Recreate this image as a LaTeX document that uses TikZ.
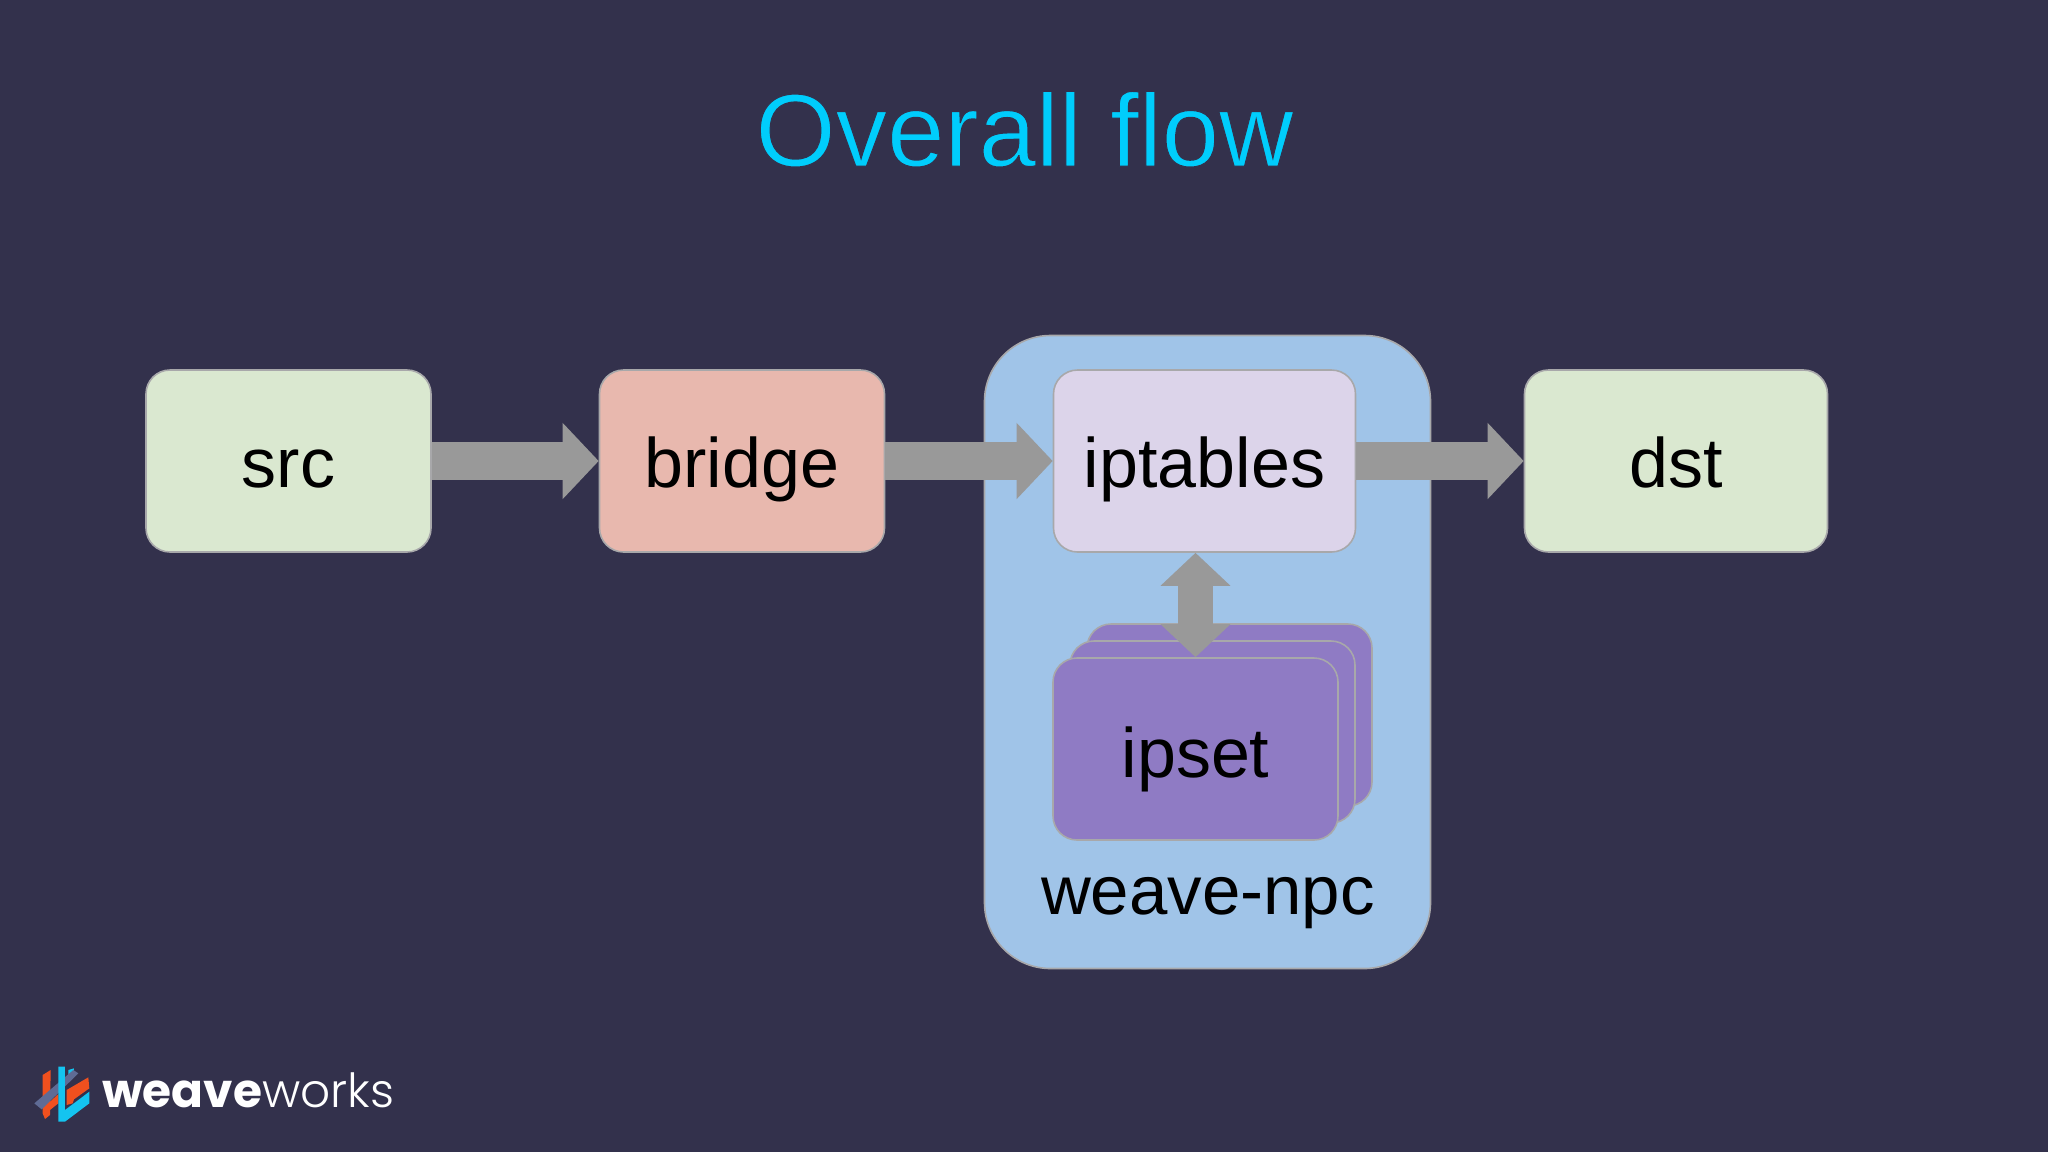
\documentclass[tikz,border=0pt]{standalone}
\usepackage{fontspec}
\usetikzlibrary{arrows.meta}
\setmainfont{Liberation Sans}
\newfontfamily\brandbold{Poppins}[UprightFont=*,BoldFont=* Bold]
\newfontfamily\brandlight{Poppins Light}
\definecolor{bg}{HTML}{33314C}
\definecolor{edge}{HTML}{A8A8AA}
\definecolor{arrowc}{HTML}{999999}
\definecolor{titlec}{HTML}{00CDFC}
\definecolor{greenbox}{HTML}{DAE8D0}
\definecolor{redbox}{HTML}{E8B8AE}
\definecolor{bluebox}{HTML}{A0C4E8}
\definecolor{lilacbox}{HTML}{DCD4EA}
\definecolor{purplebox}{HTML}{8F7BC4}
\definecolor{logoorange}{HTML}{F0501E}
\definecolor{logocyan}{HTML}{14C4F0}
\definecolor{logogrey}{HTML}{5F6B95}
\newcommand{\thinglyph}[1]{\special{pdf:code 2 Tr 1.0 w 0.2 0.192 0.298 RG}#1\special{pdf:code 0 Tr 0 w}}
\tikzset{
  x=1pt,y=-1pt,
  box/.style={draw=edge,line width=1.6pt,rounded corners=24pt,fill=#1,inner sep=0pt,
    font=\fontsize{70}{72}\selectfont,text=black,text height=60pt,text depth=8pt},
  flow/.style={draw=arrowc,line width=38pt,-{Triangle[length=36pt,width=74pt,fill=arrowc]}},
  link/.style={draw=arrowc,line width=35pt,{Triangle[length=33pt,width=68pt,fill=arrowc]}-{Triangle[length=33pt,width=68pt,fill=arrowc]}},
}
\begin{document}
\begin{tikzpicture}
\useasboundingbox (0,0) rectangle (2048,1152);
\fill[bg] (0,0) rectangle (2048,1152);
\node[font=\fontsize{103}{110}\selectfont,text=titlec,inner sep=0pt,anchor=base] (title) at (1024.5,166) {\thinglyph{Overall flow}};
% container
\node[box=bluebox,rounded corners=66pt,minimum width=446pt,minimum height=633pt] (npc) at (1207.5,652) {};
\node[inner sep=0pt,anchor=base,font=\fontsize{69}{72}\selectfont,text=black] (npclabel) at (1208,914) {weave-npc};
% boxes
\node[box=greenbox,minimum width=285pt,minimum height=182pt] (src) at (288.5,461) {src};
\node[box=redbox,minimum width=285pt,minimum height=182pt] (bridge) at (742,461) {bridge};
\node[box=lilacbox,minimum width=302pt,minimum height=182pt] (iptables) at (1204.5,461) {iptables};
\node[box=greenbox,minimum width=303pt,minimum height=182pt] (dst) at (1676,461) {dst};
% ipset stack
\node[box=purplebox,minimum width=285pt,minimum height=182pt] (ipsetc) at (1229.5,715) {};
\node[box=purplebox,minimum width=285pt,minimum height=182pt] (ipsetb) at (1212.5,732) {};
\node[box=purplebox,minimum width=285pt,minimum height=182pt,text height=62pt,text depth=5pt] (ipset) at (1195.5,749) {ipset};
% connectors
\draw[flow] (src.east) -- (bridge.west);
\draw[flow] (bridge.east) -- (iptables.west);
\draw[flow] (iptables.east) -- (dst.west);
\coordinate (linktop) at (ipset.north |- iptables.south);
\draw[link] (linktop) -- (ipset.north);
% logo
\begin{scope}[shift={(0,1020)},x=0.3333pt,y=-0.3333pt]
\fill[logoorange] (128,165) -- (152,150) -- (150,285) -- (135,297) -- (128,280) -- cycle;
\fill[logoorange] (150,245) -- (175,222) -- (175,250) -- (150,270) -- cycle;
\fill[logoorange] (200,210) -- (265,172) -- (268,205) -- (222,238) -- (218,250) -- (200,255) -- cycle;
\fill[logocyan] (205,150) -- (222,145) -- (222,170) -- (205,185) -- cycle;
\fill[logogrey] (103,250) -- (220,150) -- (235,160) -- (125,268) -- cycle;
\fill[logocyan] (175,140) -- (195,140) -- (195,270) -- (268,215) -- (268,250) -- (195,305) -- (175,305) -- cycle;
\end{scope}
\node[inner sep=0pt,anchor=base west,text=white,font=\fontsize{47}{50}\selectfont] (brand) at (102,1107) {{\brandbold\bfseries weave}{\brandlight works}};
\end{tikzpicture}
\end{document}
